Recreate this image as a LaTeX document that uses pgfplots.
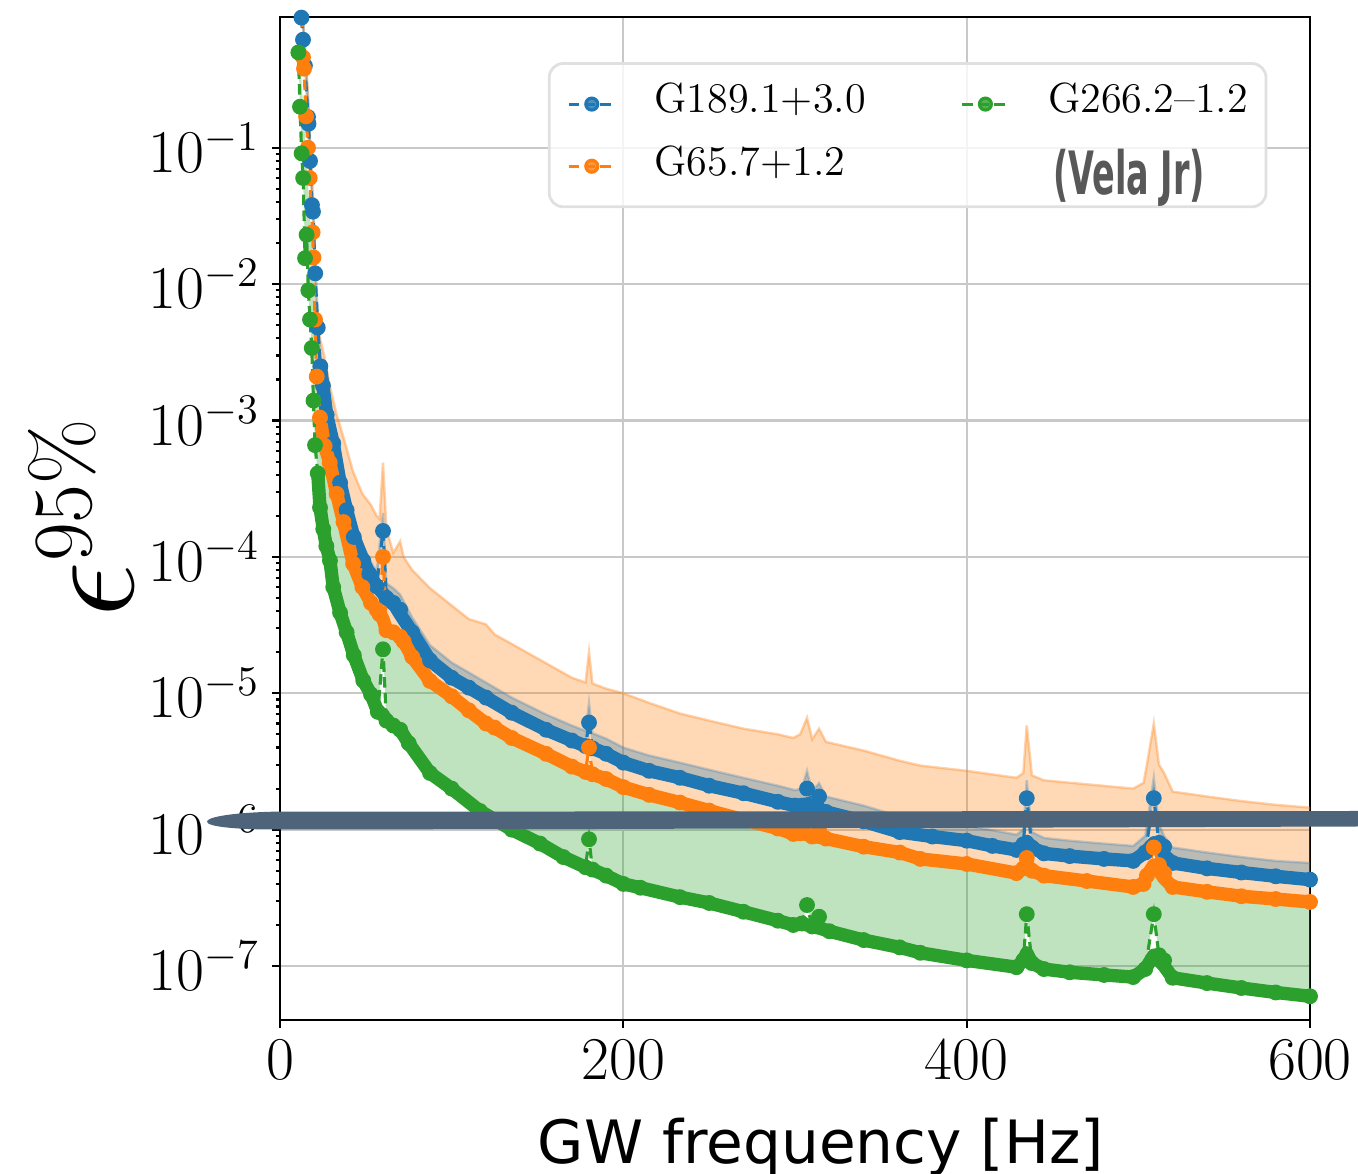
\RequirePackage{fix-cm}
\documentclass[border=0pt]{standalone}
\usepackage{fontspec}
\usepackage{pgfplots}
\usepackage{pgfplotstable}
\pgfplotsset{compat=1.18}
\usepgfplotslibrary{fillbetween}

\newfontfamily\dvsans{DejaVu Sans}
\newfontfamily\velafont[FakeStretch=0.56]{DejaVu Sans}

\definecolor{mpblue}{HTML}{1F77B4}
\definecolor{mporange}{HTML}{FF7F0E}
\definecolor{mpgreen}{HTML}{2CA02C}
\definecolor{gridgray}{HTML}{C8C8C8}
\definecolor{strokec}{RGB}{78,100,122}
\definecolor{velagray}{RGB}{88,88,88}

% x: frequency, y: upper limit (with line spikes), b: smooth base curve, up: band top
\pgfplotstableread{
x y b up
12.5 0.90 nan 1.3
13.4 0.62 nan 0.9
14.5 0.40 nan 0.55
16.3 0.168 nan 0.23
16.6 0.15 nan 0.2
17.5 0.08 nan 0.11
18.6 0.038 nan 0.05
19.2 0.034 nan 0.042
20.5 0.012 nan 0.015
22 4.8e-3 nan 6.0e-3
23.5 2.5e-3 2.5e-3 3.1e-3
25 1.8e-3 1.8e-3 2.2e-3
27.2 1.1e-3 1.1e-3 1.35e-3
31 6.8e-4 6.8e-4 8.3e-4
35 3.5e-4 3.5e-4 4.3e-4
38.8 2.2e-4 2.2e-4 2.75e-4
43 1.4e-4 1.4e-4 1.75e-4
48.5 9.4e-5 9.4e-5 1.2e-4
52 7.5e-5 7.5e-5 9.6e-5
56.3 6.1e-5 6.1e-5 7.8e-5
60 1.55e-4 5.4e-5 2.1e-4
62 5.0e-5 5.0e-5 6.4e-5
66 4.6e-5 4.6e-5 5.9e-5
70 4.1e-5 3.8e-5 5.3e-5
77 2.8e-5 2.8e-5 3.6e-5
87.4 1.74e-5 1.74e-5 2.25e-5
100 1.3e-5 1.3e-5 1.68e-5
110 1.1e-5 1.1e-5 1.42e-5
120 9.3e-6 9.3e-6 1.2e-5
135 7.2e-6 7.2e-6 9.3e-6
155 5.4e-6 5.4e-6 7.0e-6
170 4.5e-6 4.5e-6 5.8e-6
178 4.1e-6 4.1e-6 5.3e-6
180 6.1e-6 4.0e-6 8.5e-6
182 3.95e-6 3.95e-6 5.1e-6
190 3.6e-6 3.6e-6 4.65e-6
200 3.1e-6 3.1e-6 4.0e-6
215 2.7e-6 2.7e-6 3.5e-6
233 2.4e-6 2.4e-6 3.1e-6
250 2.1e-6 2.1e-6 2.75e-6
270 1.85e-6 1.85e-6 2.4e-6
290 1.6e-6 1.6e-6 2.1e-6
300 1.5e-6 1.5e-6 1.95e-6
304 1.5e-6 1.5e-6 2.0e-6
307 2.0e-6 1.55e-6 2.7e-6
310 1.45e-6 1.45e-6 1.9e-6
314 1.75e-6 1.42e-6 2.2e-6
318 1.35e-6 1.35e-6 1.75e-6
340 1.15e-6 1.15e-6 1.5e-6
361 9.6e-7 9.6e-7 1.25e-6
380 8.9e-7 8.9e-7 1.15e-6
400 8.3e-7 8.3e-7 1.07e-6
415 7.6e-7 7.6e-7 9.9e-7
429 7.1e-7 7.1e-7 9.2e-7
433 7.8e-7 7.8e-7 1.0e-6
435 1.7e-6 8.2e-7 2.3e-6
438 7.4e-7 7.4e-7 9.6e-7
445 6.7e-7 6.7e-7 8.7e-7
460 6.4e-7 6.4e-7 8.3e-7
480 6.1e-7 6.1e-7 7.9e-7
497 5.9e-7 5.9e-7 7.6e-7
504 6.8e-7 6.8e-7 9.0e-7
509 1.7e-6 8.0e-7 2.4e-6
512 8.0e-7 7.5e-7 1.1e-6
515 7.5e-7 6.5e-7 9.0e-7
520 5.7e-7 5.7e-7 7.4e-7
540 5.2e-7 5.2e-7 6.8e-7
560 4.85e-7 4.85e-7 6.3e-7
580 4.55e-7 4.55e-7 5.9e-7
600 4.3e-7 4.3e-7 5.7e-7
}\tblue

\pgfplotstableread{
x y b up
12.5 1.2 nan 1.6
13.4 0.46 nan 0.9
14 0.38 nan 0.7
15.2 0.17 nan 0.4
16.3 0.10 nan 0.25
17.3 0.06 nan 0.12
19 0.024 nan 0.05
19.5 0.0157 nan 0.035
20.4 5.5e-3 nan 0.012
21.4 2.1e-3 nan 6.5e-3
23.3 1.05e-3 1.05e-3 4.0e-3
26 6.5e-4 6.5e-4 2.9e-3
29 4.9e-4 4.9e-4 1.8e-3
33 2.9e-4 2.9e-4 1.1e-3
37 1.8e-4 1.8e-4 7.5e-4
42.6 8.9e-5 8.9e-5 4.2e-4
48 6.0e-5 6.0e-5 2.9e-4
53 4.6e-5 4.6e-5 2.4e-4
56.3 4.1e-5 4.1e-5 2.0e-4
58 3.8e-5 3.8e-5 1.9e-4
60 1.0e-4 3.5e-5 4.9e-4
62 2.9e-5 2.9e-5 1.6e-4
66 2.8e-5 2.8e-5 1.07e-4
70 2.6e-5 2.6e-5 1.3e-4
72 2.4e-5 2.4e-5 1.0e-4
77 1.85e-5 1.85e-5 8.0e-5
87.4 1.23e-5 1.23e-5 5.9e-5
100 9.5e-6 9.5e-6 4.4e-5
110 7.5e-6 7.5e-6 3.5e-5
120 6.0e-6 6.0e-6 3.2e-5
125 5.6e-6 5.6e-6 2.7e-5
135 4.7e-6 4.7e-6 2.3e-5
155 3.6e-6 3.6e-6 1.66e-5
170 2.9e-6 2.9e-6 1.3e-5
178 2.65e-6 2.65e-6 1.2e-5
180 4.0e-6 2.6e-6 2.0e-5
182 2.55e-6 2.55e-6 1.18e-5
190 2.35e-6 2.35e-6 1.08e-5
200 2.05e-6 2.05e-6 1.0e-5
215 1.8e-6 1.8e-6 8.5e-6
233 1.58e-6 1.58e-6 7.1e-6
250 1.38e-6 1.38e-6 6.3e-6
270 1.18e-6 1.18e-6 5.5e-6
290 1.02e-6 1.02e-6 5.0e-6
299 9.3e-7 9.3e-7 4.7e-6
303 9.4e-7 9.4e-7 5.0e-6
307 1.15e-6 9.2e-7 6.6e-6
310 8.9e-7 8.9e-7 4.6e-6
314 1.0e-6 8.8e-7 5.5e-6
318 8.6e-7 8.6e-7 4.4e-6
340 7.5e-7 7.5e-7 3.8e-6
361 6.8e-7 6.8e-7 3.2e-6
373 6.1e-7 6.1e-7 2.95e-6
400 5.6e-7 5.6e-7 2.7e-6
429 4.8e-7 4.8e-7 2.4e-6
433 5.2e-7 5.2e-7 2.6e-6
435 6.2e-7 5.6e-7 5.8e-6
438 5.0e-7 5.0e-7 2.5e-6
445 4.6e-7 4.6e-7 2.3e-6
470 4.2e-7 4.2e-7 2.15e-6
497 3.8e-7 3.8e-7 2.0e-6
503 4.0e-7 4.0e-7 2.2e-6
505 4.6e-7 4.6e-7 3.0e-6
509 7.4e-7 5.5e-7 6.0e-6
512 5.5e-7 5.0e-7 3.0e-6
515 4.8e-7 4.4e-7 2.6e-6
520 3.8e-7 3.8e-7 1.9e-6
540 3.5e-7 3.5e-7 1.75e-6
560 3.25e-7 3.25e-7 1.62e-6
580 3.1e-7 3.1e-7 1.52e-6
600 2.95e-7 2.95e-7 1.45e-6
}\torange

\pgfplotstableread{
x y b up
10.7 0.5 nan 0.7
11.65 0.2 nan 0.5
12.6 0.091 nan 0.3
13.5 0.06 nan 0.2
14.6 0.0155 nan 0.12
15.5 0.023 nan 0.08
16.5 9.0e-3 nan 0.05
17.5 5.5e-3 nan 0.03
18.5 3.4e-3 nan 0.02
19.5 1.4e-3 nan 0.012
20.4 6.6e-4 nan 5.5e-3
22 4.1e-4 4.1e-4 1.6e-3
23.3 2.3e-4 2.3e-4 1.05e-3
25.2 1.6e-4 1.6e-4 7.5e-4
27 1.2e-4 1.2e-4 6.0e-4
29.1 9.4e-5 9.4e-5 4.9e-4
31 6.0e-5 6.0e-5 4.0e-4
35 3.9e-5 3.9e-5 2.4e-4
38.8 2.8e-5 2.8e-5 1.5e-4
43 1.9e-5 1.9e-5 8.6e-5
48.5 1.24e-5 1.24e-5 5.8e-5
53 9.8e-6 9.8e-6 4.6e-5
57 7.3e-6 7.3e-6 3.9e-5
60 2.1e-5 7.0e-6 3.5e-5
62 6.3e-6 6.3e-6 2.9e-5
66 5.8e-6 5.8e-6 2.8e-5
70 5.4e-6 5.4e-6 2.6e-5
75 4.3e-6 4.3e-6 2.0e-5
87.4 2.6e-6 2.6e-6 1.23e-5
100 2.0e-6 2.0e-6 9.5e-6
116.5 1.37e-6 1.37e-6 6.3e-6
135 1.0e-6 1.0e-6 4.7e-6
151.5 7.9e-7 7.9e-7 3.7e-6
165 6.3e-7 6.3e-7 3.1e-6
178 5.3e-7 5.3e-7 2.65e-6
180 8.5e-7 5.2e-7 2.6e-6
182 5.1e-7 5.1e-7 2.55e-6
190 4.6e-7 4.6e-7 2.35e-6
200 4.0e-7 4.0e-7 2.05e-6
210 3.75e-7 3.75e-7 1.9e-6
233 3.2e-7 3.2e-7 1.58e-6
250 2.9e-7 2.9e-7 1.38e-6
270 2.5e-7 2.5e-7 1.18e-6
290 2.15e-7 2.15e-7 1.02e-6
299 2.0e-7 2.0e-7 9.3e-7
304 2.05e-7 2.05e-7 9.3e-7
307 2.8e-7 2.0e-7 9.2e-7
310 1.95e-7 1.95e-7 8.9e-7
314 2.3e-7 1.9e-7 8.8e-7
320 1.8e-7 1.8e-7 8.5e-7
340 1.55e-7 1.55e-7 7.5e-7
361 1.37e-7 1.37e-7 6.8e-7
373 1.25e-7 1.25e-7 6.1e-7
400 1.1e-7 1.1e-7 5.6e-7
429 9.8e-8 9.8e-8 4.8e-7
433 1.1e-7 1.1e-7 5.2e-7
435 2.4e-7 1.25e-7 5.6e-7
438 1.05e-7 1.05e-7 5.0e-7
445 9.5e-8 9.5e-8 4.6e-7
460 9.0e-8 9.0e-8 4.4e-7
480 8.6e-8 8.6e-8 4.1e-7
497 8.3e-8 8.3e-8 3.8e-7
504 9.5e-8 9.5e-8 4.3e-7
509 2.4e-7 1.2e-7 5.5e-7
512 1.2e-7 1.1e-7 5.0e-7
515 1.1e-7 1.0e-7 4.4e-7
520 8.2e-8 8.2e-8 3.8e-7
540 7.5e-8 7.5e-8 3.5e-7
560 6.9e-8 6.9e-8 3.25e-7
580 6.4e-8 6.4e-8 3.1e-7
600 6.0e-8 6.0e-8 2.95e-7
}\tgreen

\pgfplotsset{
  band/.style={draw=none, fill=#1, fill opacity=0.3, forget plot},
  thickline/.style={#1, line width=3.8pt, line join=round, line cap=round, forget plot},
  dotline/.style={#1, dash pattern=on 3pt off 1.5pt, line width=0.9pt, mark=*, mark size=1.8pt, mark options={solid}, forget plot},
}

\begin{document}
\begin{tikzpicture}
\begin{axis}[
  name=ax, at={(0,0)}, anchor=south west,
  scale only axis, width=10.30cm, height=10.03cm,
  xmin=0, xmax=600,
  ymode=log, ymin=4.02e-8, ymax=0.91,
  xtick={0,200,400,600},
  ytick={1e-7,1e-6,1e-5,1e-4,1e-3,1e-2,1e-1},
  tick pos=left, tick align=outside,
  major tick length=0.08cm, minor tick length=0.045cm,
  every tick/.style={black, line width=0.6pt},
  grid=major, major grid style={gridgray, line width=0.6pt},
  axis line style={black, line width=0.8pt},
  ticklabel style={font=\fontsize{17.28}{20}\selectfont},
  xlabel={GW frequency [Hz]},
  xlabel style={font=\dvsans\fontsize{17}{20}\selectfont, at={(axis description cs:0.525,-0.1426)}, anchor=base},
  ylabel={{\fontsize{40}{48}\selectfont$\epsilon$}{\fontsize{24}{28}\selectfont\raisebox{12pt}{95\%}}},
  ylabel style={at={(axis description cs:-0.193,0.5)}, anchor=center},
  legend columns=2,
  legend cell align=left,
  legend image code/.code={\draw[mark repeat=2, mark phase=2, #1] plot coordinates {(0cm,0cm) (0.23cm,0cm) (0.46cm,0cm)};},
  legend style={at={(axis description cs:0.26,0.955)}, anchor=north west,
    draw=black!12, line width=0.8pt, rounded corners=4pt,
    fill=white, fill opacity=0.8, text opacity=1,
    font=\fontsize{12}{14}\selectfont,
    inner xsep=0.18cm, inner ysep=0.23cm, row sep=0.27cm,
    nodes={inner sep=0pt, text height=0.75em, text depth=0.25em},
    /tikz/every odd column/.append style={column sep=0.38cm},
    /tikz/every even column/.append style={column sep=0.95cm}},
]
\addlegendimage{mpblue, dash pattern=on 3pt off 1.5pt, line width=0.9pt, mark=*, mark size=1.7pt, mark options={solid}}
\addlegendentry{G189.1+3.0}
\addlegendimage{mpgreen, dash pattern=on 3pt off 1.5pt, line width=0.9pt, mark=*, mark size=1.7pt, mark options={solid}}
\addlegendentry{G266.2--1.2}
\addlegendimage{mporange, dash pattern=on 3pt off 1.5pt, line width=0.9pt, mark=*, mark size=1.7pt, mark options={solid}}
\addlegendentry{G65.7+1.2}

% shaded bands
\addplot[name path=oU, draw=none, forget plot] table[x=x, y=up]{\torange};
\addplot[name path=oL, draw=none, forget plot] table[x=x, y=y]{\torange};
\addplot[band=mporange] fill between[of=oU and oL];
\addplot[mporange, opacity=0.35, line width=0.7pt, forget plot] table[x=x, y=up]{\torange};

\addplot[name path=bU, draw=none, forget plot] table[x=x, y=up]{\tblue};
\addplot[name path=bL, draw=none, forget plot] table[x=x, y=y]{\tblue};
\addplot[band=mpblue] fill between[of=bU and bL];
\addplot[mpblue, opacity=0.25, line width=0.7pt, forget plot] table[x=x, y=up]{\tblue};

\addplot[name path=gU, draw=none, forget plot] table[x=x, y=up]{\tgreen};
\addplot[name path=gL, draw=none, forget plot] table[x=x, y=y]{\tgreen};
\addplot[band=mpgreen] fill between[of=gU and gL];

% curves
\addplot[thickline=mpblue] table[x=x, y=b]{\tblue};
\addplot[dotline=mpblue] table[x=x, y=y]{\tblue};
\addplot[thickline=mporange] table[x=x, y=b]{\torange};
\addplot[dotline=mporange] table[x=x, y=y]{\torange};
\addplot[thickline=mpgreen] table[x=x, y=b]{\tgreen};
\addplot[dotline=mpgreen] table[x=x, y=y]{\tgreen};
\end{axis}

\node[font=\velafont\bfseries\fontsize{17}{20}\selectfont, text=velagray] at (8.49,8.42) {(Vela Jr)};

% hand-drawn strike mark across the plot
\fill[strokec] (-0.73,1.985) .. controls (-0.72,2.04) and (-0.4,2.075) .. (-0.07,2.083)
  -- (10.78,2.09) -- (10.78,1.935) -- (3.2,1.91) -- (-0.07,1.905)
  .. controls (-0.4,1.905) and (-0.74,1.93) .. cycle;

\pgfresetboundingbox
\path[use as bounding box] (-2.80,-1.53) rectangle (10.78,10.20);
\end{tikzpicture}
\end{document}
